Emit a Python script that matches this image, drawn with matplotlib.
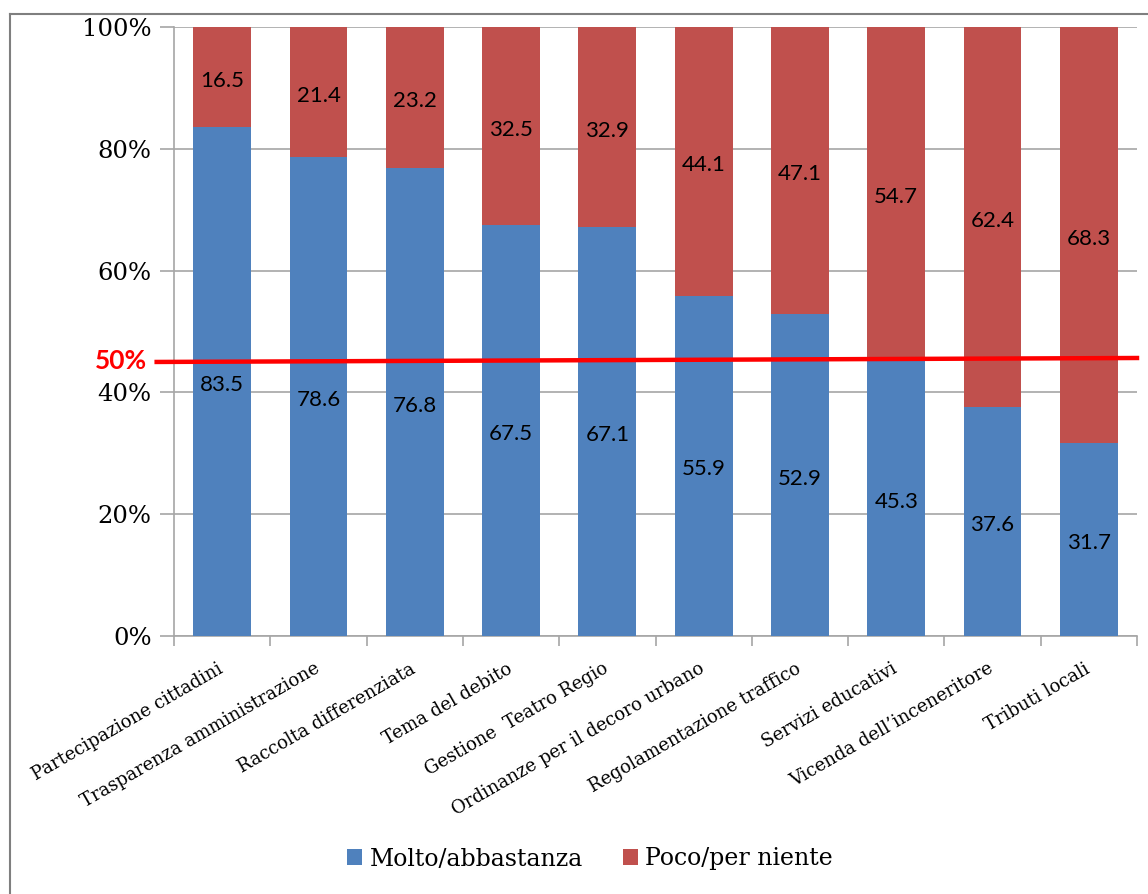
import matplotlib
matplotlib.use("Agg")
import matplotlib.pyplot as plt
import matplotlib.transforms as mtransforms
import numpy as np
from matplotlib.ticker import FixedLocator

categories = ["Partecipazione cittadini", "Trasparenza amministrazione", "Raccolta differenziata",
              "Tema del debito", "Gestione  Teatro Regio", "Ordinanze per il decoro urbano",
              "Regolamentazione traffico", "Servizi educativi", "Vicenda dell\u2019inceneritore",
              "Tributi locali"]
molto = [83.5, 78.6, 76.8, 67.5, 67.1, 55.9, 52.9, 45.3, 37.6, 31.7]
poco = [16.5, 21.4, 23.2, 32.5, 32.9, 44.1, 47.1, 54.7, 62.4, 68.3]
series_names = ["Molto/abbastanza", "Poco/per niente"]
yticks = [0, 20, 40, 60, 80, 100]
ref_label = "50%"
ref_line_y = [45.0, 45.65]   # hand-drawn line as it sits in the picture

SERIF = "DejaVu Serif"
SANS = "Lato"
BLUE = "#4F81BD"
RED = "#C0504D"
GRID = "#A6A6A6"

fig = plt.figure(figsize=(11.48, 8.94), dpi=100)
W, H = 1148, 894
ax = fig.add_axes([174 / W, 1 - 636 / H, (1137 - 174) / W, (636 - 27) / H])

x = np.arange(len(categories))
tot = np.array(molto) + np.array(poco)
mp = np.array(molto) / tot * 100
pp = np.array(poco) / tot * 100
b1 = ax.bar(x, mp, width=0.6, color=BLUE, label=series_names[0], zorder=3)
b2 = ax.bar(x, pp, bottom=mp, width=0.6, color=RED, label=series_names[1], zorder=3)

for xi, m, p, mv, pv in zip(x, mp, pp, molto, poco):
    ax.text(xi, m / 2 - 0.6, f"{mv:.1f}", ha="center", va="center", fontsize=16, family=SANS, zorder=5)
    ax.text(xi, m + p / 2 - 0.6, f"{pv:.1f}", ha="center", va="center", fontsize=16, family=SANS, zorder=5)

ax.set_xlim(-0.5, len(categories) - 0.5)
ax.set_ylim(0, 100)
ax.set_yticks(yticks)
ax.set_yticklabels([f"{t}%" for t in yticks], family=SERIF, fontsize=17.5)
ax.yaxis.grid(True, color=GRID, linewidth=1.2, zorder=0)
ax.tick_params(axis="y", length=10, color=GRID, width=1.2, pad=6)

ax.set_xticks(x)
ax.set_xticklabels(categories, rotation=30, ha="right", rotation_mode="anchor",
                   family=SERIF, fontsize=13)
ax.tick_params(axis="x", which="major", length=0, pad=17)
shift = mtransforms.ScaledTranslation(-5 / 100, 0, fig.dpi_scale_trans)
for lab in ax.get_xticklabels():
    lab.set_transform(lab.get_transform() + shift)
ax.xaxis.set_minor_locator(FixedLocator(np.arange(-0.5, len(categories), 1.0)))
ax.tick_params(axis="x", which="minor", length=7, color=GRID, width=1.2)

for s in ["top", "right"]:
    ax.spines[s].set_visible(False)
for s in ["left", "bottom"]:
    ax.spines[s].set_color(GRID)
    ax.spines[s].set_linewidth(1.2)

# hand-drawn reference line
ax.plot([-0.68, 9.5], ref_line_y, color="#FF0000", linewidth=3.2, zorder=6, clip_on=False)
fig.text(147 / W, 1 - 361 / H, ref_label, color="#FF0000", fontsize=19, fontweight="bold",
         family=SANS, ha="right", va="center")

leg = fig.legend(handles=[b1, b2], loc="center", bbox_to_anchor=(590 / W, 1 - 859 / H), ncol=2,
                 frameon=False, prop={"family": SERIF, "size": 17}, handlelength=0.65,
                 handleheight=0.65, handletextpad=0.3, columnspacing=1.7)

# outer frame
fig.add_artist(plt.Line2D([10 / W, 10 / W], [0, 1 - 14 / H], color="#7F7F7F", linewidth=1.5))
fig.add_artist(plt.Line2D([10 / W, 1], [1 - 14 / H, 1 - 14 / H], color="#7F7F7F", linewidth=1.5))

fig.savefig("out.png", dpi=100)
